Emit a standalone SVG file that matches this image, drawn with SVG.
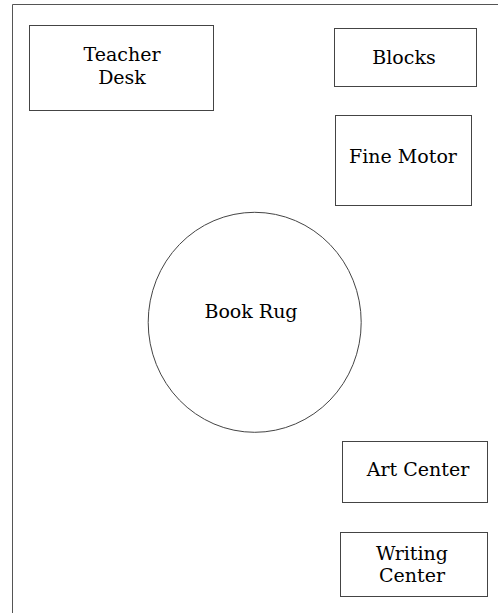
<svg xmlns="http://www.w3.org/2000/svg" width="498" height="613" viewBox="0 0 498 613">
<style>
.box{fill:#fff;stroke:#444;stroke-width:1}
.t{font-family:"DejaVu Serif","Liberation Serif",serif;font-size:19px;fill:#000;text-anchor:middle}
</style>
<rect width="498" height="613" fill="#fff"/>
<g id="border"><path d="M12.5,613 V4.5 H498" fill="none" stroke="#555" stroke-width="1"/></g>
<g id="teacher-desk"><rect class="box" x="29.5" y="25.5" width="184" height="85"/><text class="t" x="122" y="61">Teacher</text><text class="t" x="122" y="84">Desk</text></g>
<g id="blocks"><rect class="box" x="334.5" y="28.5" width="142" height="58"/><text class="t" x="404" y="64">Blocks</text></g>
<g id="fine-motor"><rect class="box" x="335.5" y="115.5" width="136" height="90"/><text class="t" x="403" y="163">Fine Motor</text></g>
<g id="book-rug"><ellipse class="box" cx="254.7" cy="322.3" rx="106.5" ry="110" stroke="#222"/><text class="t" x="251" y="318">Book Rug</text></g>
<g id="art-center"><rect class="box" x="342.5" y="441.5" width="145" height="61"/><text class="t" x="418" y="476">Art Center</text></g>
<g id="writing-center"><rect class="box" x="340.5" y="532.5" width="147" height="64"/><text class="t" x="412" y="560">Writing</text><text class="t" x="412" y="582">Center</text></g>
<g id="connectors"/>
</svg>
